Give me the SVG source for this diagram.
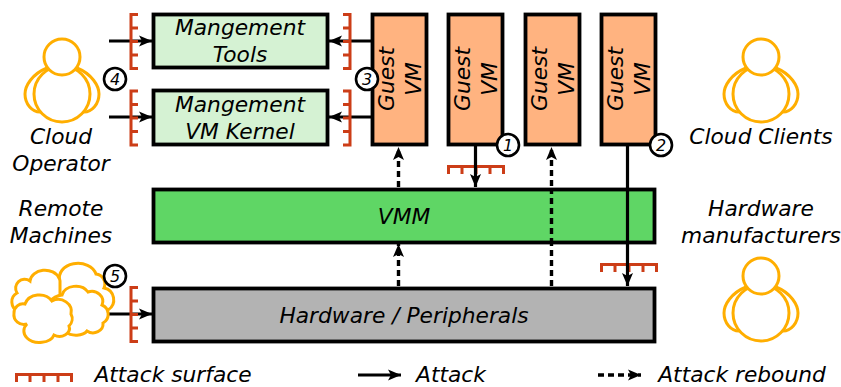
<svg xmlns="http://www.w3.org/2000/svg" width="841" height="387" viewBox="0 0 841 387">
<style>
text{font-family:"DejaVu Sans",sans-serif;font-style:oblique;font-size:21.75px;fill:#000;text-anchor:middle}
.box{stroke:#000;stroke-width:3.8}
.per{fill:#fff;stroke:#ffae00;stroke-width:3}
.cl{fill:#fff;stroke:#ffae00;stroke-width:3}
.sf{fill:none;stroke:#cc3d17;stroke-width:3}
.l{fill:none;stroke:#000;stroke-width:3.2}
.d{fill:none;stroke:#000;stroke-width:3.4;stroke-dasharray:6 4}
.n{fill:#fff;stroke:#000;stroke-width:2.6}
.num{font-size:16px}
</style>
<defs>
<marker id="a" markerUnits="userSpaceOnUse" markerWidth="14" markerHeight="12" refX="13" refY="6" orient="auto"><path d="M0 0.500L13 6L0 11.500L3 6Z" fill="#000"/></marker>
<g id="person"><path class="per" d="M-15 -26C-30 -20 -37 -8 -37 0C-37 10 -30 18 -22 18L22 18C30 18 37 10 37 0C37 -8 30 -20 15 -26Z"/><circle class="per" cx="0" cy="0" r="28"/><circle class="per" cx="0" cy="-37" r="18"/></g>
<path id="surfV" class="sf" d="M1 0V57M0 1.500H8M0 15H8M0 28.500H8M0 42H8M0 55.500H8"/>
<path id="surfVR" class="sf" d="M0 0V57M1 1.500H-7M1 15H-7M1 28.500H-7M1 42H-7M1 55.500H-7"/>
<path id="surfH" class="sf" d="M0 1.500H58M1.500 0V9M15 1V9M29 1V9M43 1V9M56.500 0V9"/>
</defs>
<g id="connectors">
<path class="l" d="M109 41H152" marker-end="url(#a)"/>
<path class="l" d="M109 117H152" marker-end="url(#a)"/>
<path class="l" d="M371 41H329" marker-end="url(#a)"/>
<path class="l" d="M371 117H329" marker-end="url(#a)"/>
<path class="l" d="M109 314H152" marker-end="url(#a)"/>
<path class="d" d="M398.500 187V147" marker-end="url(#a)"/>
<path class="d" d="M398.500 286V244" marker-end="url(#a)"/>
<path class="d" d="M551.500 286V147" marker-end="url(#a)"/>
<use href="#surfV" x="130" y="13"/>
<use href="#surfV" x="130" y="89.500"/>
<use href="#surfV" x="130" y="286"/>
<use href="#surfVR" x="350" y="13"/>
<use href="#surfVR" x="350" y="89.500"/>
<use href="#surfH" x="447" y="165"/>
<use href="#surfH" x="600" y="263"/>
</g>
<g id="tools"><rect class="box" x="153.500" y="14.500" width="174" height="53" fill="#d5f2d3"/><text x="240" y="35">Mangement</text><text x="240" y="62">Tools</text></g>
<g id="kernel"><rect class="box" x="153.500" y="90.500" width="174" height="54" fill="#d5f2d3"/><text x="240" y="112">Mangement</text><text x="240" y="139">VM Kernel</text></g>
<g id="vm1"><rect class="box" x="372.500" y="14.500" width="54" height="130" fill="#ffb380"/><text transform="translate(394,79) rotate(-90)">Guest</text><text transform="translate(421,79) rotate(-90)">VM</text></g>
<g id="vm2"><rect class="box" x="448.500" y="14.500" width="54" height="130" fill="#ffb380"/><text transform="translate(470,79) rotate(-90)">Guest</text><text transform="translate(497,79) rotate(-90)">VM</text></g>
<g id="vm3"><rect class="box" x="525.500" y="14.500" width="54" height="130" fill="#ffb380"/><text transform="translate(547,79) rotate(-90)">Guest</text><text transform="translate(574,79) rotate(-90)">VM</text></g>
<g id="vm4"><rect class="box" x="601.500" y="14.500" width="54" height="130" fill="#ffb380"/><text transform="translate(623,79) rotate(-90)">Guest</text><text transform="translate(650,79) rotate(-90)">VM</text></g>
<g id="vmm"><rect class="box" x="153.500" y="189.500" width="501" height="53" fill="#5fd665"/><text x="404" y="224">VMM</text></g>
<g id="hw"><rect class="box" x="153.500" y="288.500" width="501" height="53" fill="#b3b3b3"/><text x="404" y="323">Hardware / Peripherals</text></g>
<g id="overlay">
<path class="d" d="M551.500 188V243"/>
<path class="l" d="M475.500 146V187" marker-end="url(#a)"/>
<path class="l" d="M627.500 146V286" marker-end="url(#a)"/>
</g>
<g id="operator"><use href="#person" x="62" y="94"/><text x="61" y="144">Cloud</text><text x="61" y="171">Operator</text></g>
<g id="clients"><use href="#person" x="761" y="94"/><text x="761" y="144">Cloud Clients</text></g>
<g id="manufacturers"><use href="#person" x="761" y="313"/><text x="761" y="216">Hardware</text><text x="761" y="243">manufacturers</text></g>
<g id="remote">
<text x="61" y="216">Remote</text><text x="61" y="243">Machines</text>
<path class="cl" d="M30 281A15 12 0 0 1 59 278A12 12 0 0 1 60 305L18 311A10 10 0 0 1 17 293A9 9 0 0 1 30 281Z"/>
<path class="cl" d="M60 281A17 13 0 0 1 96 274A10 10 0 0 1 104 288A12 12 0 0 1 108 310L75 333L60 325Z"/>
<path class="cl" d="M62 295A14 11 0 0 1 88 292A11 10 0 0 1 102 305A10 10 0 0 1 103 323A10 9 0 0 1 87 331A12 7 0 0 1 66 332A10 10 0 0 1 62 295Z"/>
<path class="cl" d="M25 304A15 13 0 0 1 52 301A13 12 0 0 1 71 314A10 10 0 0 1 69 326A10 8 0 0 1 54 335A15 10 0 0 1 27 338A11 10 0 0 1 27 324A10 10 0 0 1 14 313A9 9 0 0 1 25 304Z"/>
</g>
<g id="n1"><circle class="n" cx="508" cy="145" r="11"/><text class="num" x="508" y="151">1</text></g>
<g id="n2"><circle class="n" cx="661" cy="145" r="11"/><text class="num" x="661" y="151">2</text></g>
<g id="n3"><circle class="n" cx="367" cy="79" r="11"/><text class="num" x="367" y="85">3</text></g>
<g id="n4"><circle class="n" cx="115" cy="79" r="11"/><text class="num" x="115" y="85">4</text></g>
<g id="n5"><circle class="n" cx="115" cy="276" r="11"/><text class="num" x="115" y="282">5</text></g>
<g id="legend">
<use href="#surfH" x="15" y="373"/>
<text x="173" y="382">Attack surface</text>
<path class="l" d="M358 375H401" marker-end="url(#a)"/>
<text x="451" y="382">Attack</text>
<path class="d" d="M598 375H641" marker-end="url(#a)"/>
<text x="742" y="382">Attack rebound</text>
</g>
</svg>
